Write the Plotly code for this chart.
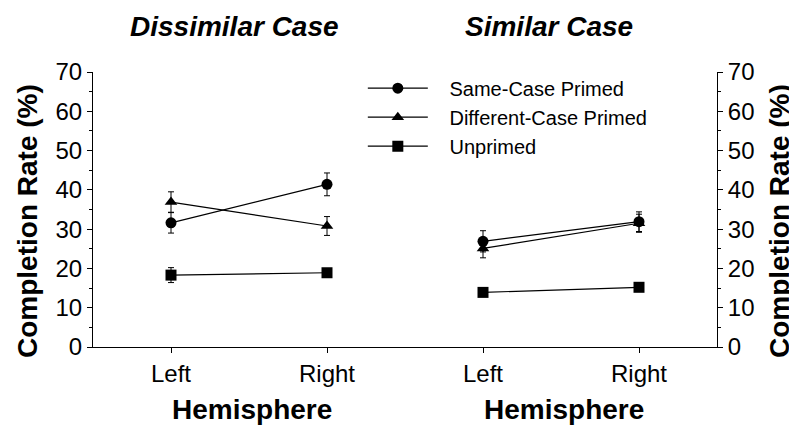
import plotly.graph_objects as go

hemispheres = ["Left", "Right"]
series_names = ["Same-Case Primed", "Different-Case Primed", "Unprimed"]
series_symbols = ["circle", "triangle-up", "square"]

dissimilar_vals = {
    "Same-Case Primed": [31.6, 41.4],
    "Different-Case Primed": [36.9, 30.8],
    "Unprimed": [18.3, 18.9],
}
dissimilar_err = {
    "Same-Case Primed": [2.6, 2.9],
    "Different-Case Primed": [2.6, 2.4],
    "Unprimed": [1.9, 1.0],
}
similar_vals = {
    "Same-Case Primed": [26.9, 31.9],
    "Different-Case Primed": [25.1, 31.5],
    "Unprimed": [13.9, 15.2],
}
similar_err = {
    "Same-Case Primed": [2.7, 2.5],
    "Different-Case Primed": [2.4, 2.3],
    "Unprimed": [0.8, 0.8],
}

FONT = "Arial, Liberation Sans, sans-serif"
PAD = "\u00a0\u00a0\u00a0"  # gap between legend line and label

# page body has an 8px margin; figure sized to fit the visible window
OFF = 8
W, H = 797 - OFF, 425 - OFF
L, R, T, B = 93 - OFF, 797 - 717, 72 - OFF, 425 - 347
PW, PH = W - L - R, H - T - B


def px(xp):
    return (xp - OFF - L) / PW


def py(yp):
    return (H - B - (yp - OFF)) / PH


fig = go.Figure()
for name, sym in zip(series_names, series_symbols):
    fig.add_trace(go.Scatter(
        x=hemispheres, y=dissimilar_vals[name], name=PAD + name, mode="lines+markers",
        line=dict(color="black", width=1.2),
        marker=dict(symbol=sym, size=11, color="black"),
        error_y=dict(type="data", array=dissimilar_err[name], color="black", thickness=1, width=3),
        xaxis="x", yaxis="y", legendgroup=name, showlegend=True,
    ))
    fig.add_trace(go.Scatter(
        x=hemispheres, y=similar_vals[name], name=PAD + name, mode="lines+markers",
        line=dict(color="black", width=1.2),
        marker=dict(symbol=sym, size=11, color="black"),
        error_y=dict(type="data", array=similar_err[name], color="black", thickness=1, width=3),
        xaxis="x2", yaxis="y2", legendgroup=name, showlegend=False,
    ))

axis_common = dict(showgrid=False, zeroline=False, showline=True, linecolor="black", linewidth=1,
                   ticks="outside", tickcolor="black", ticklen=5,
                   tickfont=dict(family=FONT, size=24, color="black"))

xcommon = dict(axis_common, type="category", range=[-0.5, 1.5], tickvals=hemispheres)
ycommon = dict(axis_common, range=[0, 70], dtick=10, tick0=0,
               minor=dict(dtick=5, ticks="outside", ticklen=3, tickcolor="black"))

fig.update_layout(
    width=W, height=H,
    margin=dict(l=L, r=R, t=T, b=B),
    paper_bgcolor="white", plot_bgcolor="white",
    xaxis=dict(xcommon, domain=[0, 0.5], anchor="y"),
    xaxis2=dict(xcommon, domain=[0.5, 1], anchor="y2"),
    yaxis=dict(ycommon, anchor="x", side="left"),
    yaxis2=dict(ycommon, anchor="x2", side="right"),
    showlegend=True,
    legend=dict(x=0.4324, y=1.012, xanchor="left", yanchor="top",
                font=dict(family=FONT, size=20, color="black"),
                bgcolor="rgba(0,0,0,0)", itemwidth=60, tracegroupgap=0),
    font=dict(family=FONT, color="black"),
)

ann = [
    dict(text="<b><i>Dissimilar Case</i></b>", x=234, y=26),
    dict(text="<b><i>Similar Case</i></b>", x=549, y=26),
    dict(text="<b>Hemisphere</b>", x=252, y=409),
    dict(text="<b>Hemisphere</b>", x=564, y=409),
]
for a in ann:
    fig.add_annotation(text=a["text"], xref="paper", yref="paper",
                       x=px(a["x"]), y=py(a["y"]),
                       showarrow=False, xanchor="center", yanchor="middle",
                       font=dict(family=FONT, size=28, color="black"))
for xc in (28, 780):
    fig.add_annotation(text="<b>Completion Rate (%)</b>", xref="paper", yref="paper",
                       x=px(xc), y=py(221), textangle=-90,
                       showarrow=False, xanchor="center", yanchor="middle",
                       font=dict(family=FONT, size=28, color="black"))

fig.write_html("out.html")
